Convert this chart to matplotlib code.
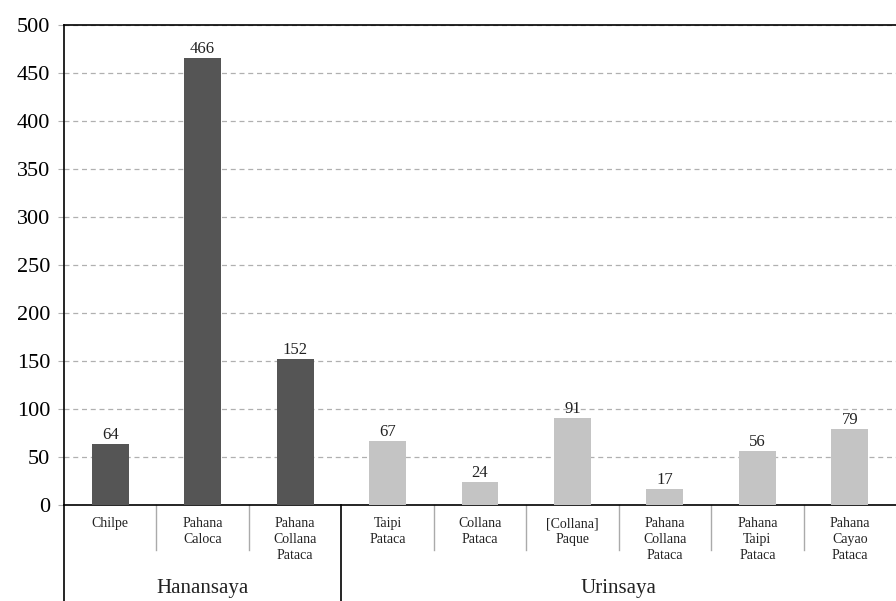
import matplotlib
matplotlib.use("Agg")
import matplotlib.pyplot as plt

plt.rcParams["font.family"] = ["Liberation Serif", "DejaVu Serif"]

categories = ["Chilpe", "Pahana\nCaloca", "Pahana\nCollana\nPataca",
              "Taipi\nPataca", "Collana\nPataca", "[Collana]\nPaque",
              "Pahana\nCollana\nPataca", "Pahana\nTaipi\nPataca", "Pahana\nCayao\nPataca"]
values = [64, 466, 152, 67, 24, 91, 17, 56, 79]
groups = ["Hanansaya", "Urinsaya"]
group_sizes = [3, 6]
group_colors = ["#555555", "#c4c4c4"]

W, H = 896, 601
fig = plt.figure(figsize=(W / 100, H / 100), dpi=100)
ax_h = 480
ax = fig.add_axes([64 / W, 1 - 505 / H, 832 / W, ax_h / H])

colors = []
for g, n in enumerate(group_sizes):
    colors += [group_colors[g]] * n

x = list(range(len(values)))
bars = ax.bar(x, values, width=0.4, color=colors, zorder=3)
for xi, v in zip(x, values):
    ax.text(xi, v + 1, str(v), ha="center", va="bottom", fontsize=12, color="#222222")

ax.set_xlim(-0.5, len(values) - 0.5)
ax.set_ylim(0, 500)
ax.set_yticks(range(0, 501, 50))
ax.tick_params(axis="y", labelsize=16, length=4, color="#b0b0b0", pad=6)
ax.set_xticks([])
ax.yaxis.grid(True, linestyle=(0, (4, 3)), color="#b0b0b0", linewidth=0.9, zorder=0)
ax.spines["right"].set_visible(False)
for side in ["left", "top", "bottom"]:
    ax.spines[side].set_linewidth(1.2)

tr = ax.get_xaxis_transform()
px = 1.0 / ax_h

# category labels
for xi, lab in enumerate(categories):
    ax.text(xi, -12 * px, lab, transform=tr, ha="center", va="top",
            fontsize=10, linespacing=1.3, color="#222222")

# separators and group labels
start = 0
for g, n in enumerate(group_sizes):
    for k in range(1, n):
        ax.plot([start + k - 0.5] * 2, [0, -45 * px], transform=tr,
                color="#aaaaaa", linewidth=1, clip_on=False)
    ax.text(start + (n - 1) / 2, -83 * px, groups[g], transform=tr,
            ha="center", va="center", fontsize=15, color="#222222")
    start += n
ax.plot([-0.5, -0.5], [0, -100 * px], transform=tr, color="black", linewidth=1.2, clip_on=False)
ax.plot([group_sizes[0] - 0.5] * 2, [0, -100 * px], transform=tr, color="black", linewidth=1.2, clip_on=False)

fig.savefig("out.png", dpi=100)
